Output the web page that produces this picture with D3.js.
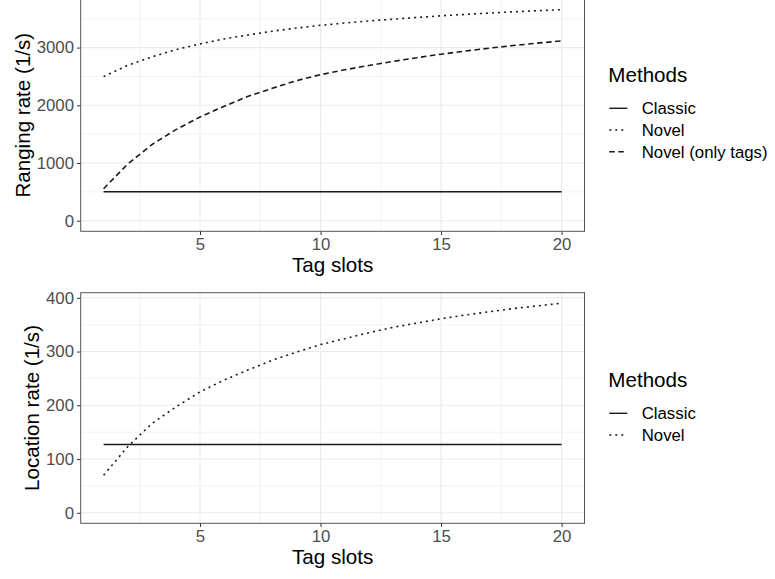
<!DOCTYPE html>
<html>
<head>
<meta charset="utf-8">
<script src="https://cdn.jsdelivr.net/npm/d3@7"></script>
<style>
  body { margin: 0; background: #fff; }
  svg { display: block; font-family: "Liberation Sans", Arial, sans-serif; }
  .grid-major { stroke: #ebebeb; stroke-width: 1.1; }
  .grid-minor { stroke: #ebebeb; stroke-width: 0.6; }
  .tick-lab { fill: #4d4d4d; font-size: 16.8px; }
  .axis-title { fill: #000; font-size: 20.6px; }
</style>
</head>
<body>
<svg id="chart" width="775" height="579"></svg>
<script>
"use strict";

// data
var tagSlots = [1, 2, 3, 4, 5, 6, 7, 8, 9, 10, 11, 12, 13, 14, 15, 16, 17, 18, 19, 20];

var rangingClassic = [503, 503, 503, 503, 503, 503, 503, 503, 503, 503,
                      503, 503, 503, 503, 503, 503, 503, 503, 503, 503];
var rangingNovel = [2497, 2693, 2838, 2965, 3063, 3150, 3219, 3283, 3338, 3386,
                    3425, 3460, 3492, 3522, 3550, 3575, 3598, 3619, 3639, 3657];
var rangingNovelTags = [555, 983, 1318, 1578, 1798, 1983, 2156, 2295, 2428, 2530,
                        2615, 2690, 2760, 2825, 2885, 2940, 2990, 3035, 3077, 3115];

var locationClassic = [127, 127, 127, 127, 127, 127, 127, 127, 127, 127,
                       127, 127, 127, 127, 127, 127, 127, 127, 127, 127];
var locationNovel = [70, 123, 166, 197, 225, 247, 266, 284, 299, 313,
                     324, 335, 345, 353, 361, 368, 374, 380, 385, 390];

var xTicks = [5, 10, 15, 20];
var xMinorTicks = [2.5, 7.5, 12.5, 17.5];
var rangingTicks = [0, 1000, 2000, 3000];
var rangingMinorTicks = [500, 1500, 2500, 3500];
var locationTicks = [0, 100, 200, 300, 400];
var locationMinorTicks = [50, 150, 250, 350];

var methodNames = ['Classic', 'Novel', 'Novel (only tags)'];

// line types, like ggplot solid / dotted / dashed
var dashes = {
    'Classic': null,
    'Novel': '2,4',
    'Novel (only tags)': '5.5,3.5'
};

var svg = d3.select('#chart');

var left = 80.7, right = 584.5;

var x = d3.scaleLinear()
    .domain([1 - 0.05 * 19, 20 + 0.05 * 19])
    .range([left, right]);

function drawPanel(opts) {
    var g = svg.append('g').attr('class', 'panel');
    var maxV = d3.max(opts.series, function (s) { return d3.max(s.values); });
    var pad = 0.05 * maxV;
    var y = d3.scaleLinear()
        .domain([-pad, maxV + pad])
        .range([opts.bottom, opts.top]);

    // minor grid
    g.selectAll('.gx-minor').data(xMinorTicks).enter().append('line')
        .attr('class', 'grid-minor')
        .attr('x1', x).attr('x2', x)
        .attr('y1', opts.top).attr('y2', opts.bottom);
    g.selectAll('.gy-minor').data(opts.yMinor).enter().append('line')
        .attr('class', 'grid-minor')
        .attr('x1', left).attr('x2', right)
        .attr('y1', y).attr('y2', y);
    // major grid
    g.selectAll('.gx-major').data(xTicks).enter().append('line')
        .attr('class', 'grid-major')
        .attr('x1', x).attr('x2', x)
        .attr('y1', opts.top).attr('y2', opts.bottom);
    g.selectAll('.gy-major').data(opts.yTicks).enter().append('line')
        .attr('class', 'grid-major')
        .attr('x1', left).attr('x2', right)
        .attr('y1', y).attr('y2', y);

    var line = d3.line()
        .x(function (d, i) { return x(tagSlots[i]); })
        .y(function (d) { return y(d); });

    opts.series.forEach(function (s) {
        g.append('path')
            .datum(s.values)
            .attr('d', line)
            .attr('fill', 'none')
            .attr('stroke', '#1a1a1a')
            .attr('stroke-width', 1.6)
            .attr('stroke-dasharray', dashes[s.name]);
    });

    // panel border
    g.append('rect')
        .attr('x', left).attr('y', opts.top)
        .attr('width', right - left).attr('height', opts.bottom - opts.top)
        .attr('fill', 'none')
        .attr('stroke', '#555')
        .attr('stroke-width', 1);

    // axes
    var xAxis = d3.axisBottom(x).tickValues(xTicks).tickSize(3.7).tickPadding(3);
    var gX = g.append('g')
        .attr('transform', 'translate(0,' + opts.bottom + ')')
        .call(xAxis);
    var yAxis = d3.axisLeft(y).tickValues(opts.yTicks).tickSize(3.7).tickPadding(3)
        .tickFormat(d3.format('d'));
    var gY = g.append('g')
        .attr('transform', 'translate(' + left + ',0)')
        .call(yAxis);
    [gX, gY].forEach(function (a) {
        a.select('.domain').remove();
        a.selectAll('.tick line').attr('stroke', '#333').attr('stroke-width', 1);
        a.selectAll('.tick text').attr('class', 'tick-lab')
            .attr('font-family', null).attr('font-size', null).attr('fill', null);
    });
    gX.selectAll('.tick text').attr('dy', null).attr('y', 18.7);

    // axis titles
    g.append('text')
        .attr('class', 'axis-title')
        .attr('x', (left + right) / 2)
        .attr('y', opts.bottom + 41)
        .attr('text-anchor', 'middle')
        .text('Tag slots');
    g.append('text')
        .attr('class', 'axis-title')
        .attr('transform', 'translate(' + opts.yTitleX + ',' + (opts.top + opts.bottom) / 2 + ') rotate(-90)')
        .attr('text-anchor', 'middle')
        .text(opts.yTitle);

    // legend
    var lg = svg.append('g').attr('class', 'legend')
        .attr('transform', 'translate(608.3,' + opts.legendY + ')');
    lg.append('text')
        .attr('class', 'axis-title')
        .attr('x', 0).attr('y', 0)
        .text('Methods');
    opts.series.forEach(function (s, i) {
        var cy = 26.6 + i * 21.7;
        lg.append('line')
            .attr('x1', 1).attr('x2', 19)
            .attr('y1', cy).attr('y2', cy)
            .attr('stroke', '#1a1a1a')
            .attr('stroke-width', 1.4)
            .attr('stroke-dasharray', dashes[s.name]);
        lg.append('text')
            .attr('x', 33.4).attr('y', cy + 5.9)
            .attr('font-size', '16.8px')
            .attr('fill', '#000')
            .text(s.name);
    });
}

drawPanel({
    top: -0.9,
    bottom: 231.3,
    yTicks: rangingTicks,
    yMinor: rangingMinorTicks,
    yTitle: 'Ranging rate (1/s)',
    yTitleX: 29.5,
    legendY: 81.7,
    series: [
        { name: methodNames[0], values: rangingClassic },
        { name: methodNames[1], values: rangingNovel },
        { name: methodNames[2], values: rangingNovelTags }
    ]
});

drawPanel({
    top: 292.7,
    bottom: 523.3,
    yTicks: locationTicks,
    yMinor: locationMinorTicks,
    yTitle: 'Location rate (1/s)',
    yTitleX: 39.3,
    legendY: 386.7,
    series: [
        { name: methodNames[0], values: locationClassic },
        { name: methodNames[1], values: locationNovel }
    ]
});
</script>
</body>
</html>
